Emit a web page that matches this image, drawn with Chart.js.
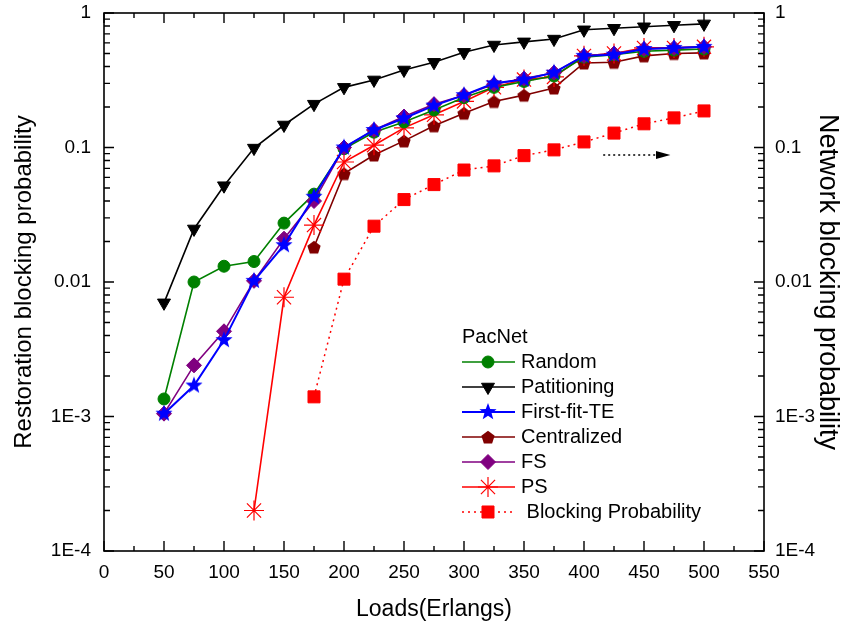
<!DOCTYPE html>
<html>
<head>
<meta charset="utf-8">
<script src="https://cdn.jsdelivr.net/npm/chart.js@4.4.0/dist/chart.umd.min.js"></script>
<style>
  body { margin: 0; background: #fff; }
</style>
</head>
<body>
<canvas id="grafico" width="862" height="635"></canvas>
<script>
var cargas = [50, 75, 100, 125, 150, 175, 200, 225, 250, 275, 300, 325, 350, 375, 400, 425, 450, 475, 500];

var random = [0.00135, 0.0100, 0.0131, 0.0142, 0.0274, 0.045, 0.098, 0.13, 0.155, 0.19, 0.235, 0.28, 0.31, 0.34, 0.47, 0.49, 0.52, 0.53, 0.54];
var particionado = [0.0070, 0.0248, 0.052, 0.099, 0.147, 0.21, 0.28, 0.318, 0.377, 0.43, 0.51, 0.578, 0.61, 0.64, 0.75, 0.77, 0.79, 0.81, 0.83];
var firstFit = [0.00105, 0.0017, 0.0037, 0.0102, 0.0188, 0.043, 0.1, 0.135, 0.165, 0.205, 0.245, 0.30, 0.32, 0.36, 0.48, 0.49, 0.54, 0.55, 0.56];
var centralizado = [null, null, null, null, null, 0.0182, 0.064, 0.088, 0.112, 0.145, 0.18, 0.22, 0.245, 0.277, 0.425, 0.43, 0.48, 0.50, 0.505];
var fsDatos = [0.00105, 0.0024, 0.0043, 0.0102, 0.021, 0.040, 0.1, 0.135, 0.17, 0.21, 0.245, 0.295, 0.325, 0.36, 0.48, 0.50, 0.54, 0.55, 0.56];
var psDatos = [null, null, null, 0.0002, 0.0077, 0.0265, 0.078, 0.104, 0.14, 0.175, 0.22, 0.28, 0.32, 0.335, 0.48, 0.50, 0.55, 0.55, 0.56];
var bloqueo = [null, null, null, null, null, 0.0014, 0.0105, 0.026, 0.041, 0.053, 0.068, 0.073, 0.087, 0.096, 0.11, 0.128, 0.15, 0.166, 0.187];

var yMarcas = [0.0001, 0.001, 0.01, 0.1, 1];
var yEtiquetas = ["1E-4", "1E-3", "0.01", "0.1", "1"];
var xPaso = 50;

var fuente = "Arial, 'Liberation Sans', sans-serif";

// marcadores que Chart.js no trae
function hacerEstrella(color, r) {
  var c = document.createElement("canvas");
  c.width = c.height = 2 * r + 2;
  var ctx = c.getContext("2d");
  ctx.fillStyle = color;
  ctx.beginPath();
  for (var i = 0; i < 10; i++) {
    var a = -Math.PI / 2 + i * Math.PI / 5;
    var rr = i % 2 ? r * 0.42 : r;
    ctx.lineTo(r + 1 + rr * Math.cos(a), r + 1 + rr * Math.sin(a));
  }
  ctx.closePath();
  ctx.fill();
  return c;
}

function hacerPentagono(color, r) {
  var c = document.createElement("canvas");
  c.width = c.height = 2 * r + 2;
  var ctx = c.getContext("2d");
  ctx.fillStyle = color;
  ctx.beginPath();
  for (var i = 0; i < 5; i++) {
    var a = -Math.PI / 2 + i * 2 * Math.PI / 5;
    ctx.lineTo(r + 1 + r * Math.cos(a), r + 1.8 + r * Math.sin(a));
  }
  ctx.closePath();
  ctx.fill();
  return c;
}

function puntos(serie) {
  var lista = [];
  for (var i = 0; i < cargas.length; i++) {
    if (serie[i] != null) lista.push({ x: cargas[i], y: serie[i] });
  }
  return lista;
}

function serie(nombre, datos, color, estilo, radio, giro, orden, extra) {
  var d = {
    label: nombre,
    data: puntos(datos),
    borderColor: color,
    backgroundColor: color,
    pointBackgroundColor: color,
    pointBorderColor: color,
    pointBorderWidth: 1,
    borderWidth: 1.6,
    pointStyle: estilo,
    pointRadius: radio,
    pointRotation: giro,
    order: orden,
    yAxisID: "y"
  };
  for (var k in extra) d[k] = extra[k];
  return d;
}

var datasets = [
  serie("Random", random, "#008000", "circle", 6, 0, 2),
  serie("Patitioning", particionado, "#000000", "triangle", 7.5, 180, 5),
  serie("First-fit-TE", firstFit, "#0000ff", hacerEstrella("#0000ff", 9), 8, 0, 0, { borderWidth: 2 }),
  serie("Centralized", centralizado, "#800000", hacerPentagono("#800000", 7), 7, 0, 4),
  serie("FS", fsDatos, "#800080", "rectRot", 7.5, 0, 1),
  serie("PS", psDatos, "#ff0000", "star", 10, 0, 3, { pointBorderWidth: 1.2 }),
  serie("Blocking Probability", bloqueo, "#ff0000", "rect", 8.5, 0, 6, { borderDash: [2, 4], borderWidth: 1.5, yAxisID: "y2" })
];

// marco, marcas hacia adentro, flecha y leyenda
var marcoPlugin = {
  id: "marco",
  afterDraw: function (chart) {
    var ctx = chart.ctx;
    var a = chart.chartArea;
    var sx = chart.scales.x;
    var sy = chart.scales.y;
    ctx.save();
    ctx.strokeStyle = "#000";
    ctx.lineWidth = 1.6;
    ctx.strokeRect(a.left, a.top, a.right - a.left, a.bottom - a.top);

    ctx.lineWidth = 1.4;
    ctx.beginPath();
    for (var v = 0; v <= sx.max; v += xPaso / 2) {
      var px = sx.getPixelForValue(v);
      var largo = (v % xPaso === 0) ? 10 : 5;
      ctx.moveTo(px, a.bottom); ctx.lineTo(px, a.bottom - largo);
      ctx.moveTo(px, a.top); ctx.lineTo(px, a.top + largo);
    }
    for (var e = 0; e < yMarcas.length; e++) {
      for (var m = 1; m <= 9; m++) {
        var val = yMarcas[e] * m;
        if (val > 1) break;
        var py = sy.getPixelForValue(val);
        var l = m === 1 ? 10 : 6;
        ctx.moveTo(a.left, py); ctx.lineTo(a.left + l, py);
        ctx.moveTo(a.right, py); ctx.lineTo(a.right - l, py);
      }
    }
    ctx.stroke();

    // flecha punteada hacia el eje derecho
    var fy = sy.getPixelForValue(0.088);
    var fx1 = sx.getPixelForValue(416);
    var fx2 = sx.getPixelForValue(460);
    var fx3 = sx.getPixelForValue(472);
    ctx.lineWidth = 1.5;
    ctx.setLineDash([2, 3]);
    ctx.beginPath();
    ctx.moveTo(fx1, fy); ctx.lineTo(fx2, fy);
    ctx.stroke();
    ctx.setLineDash([]);
    ctx.fillStyle = "#000";
    ctx.beginPath();
    ctx.moveTo(fx3, fy); ctx.lineTo(fx2, fy - 4); ctx.lineTo(fx2, fy + 4);
    ctx.closePath();
    ctx.fill();

    // leyenda
    var lx = 462, ly = 337, paso = 25;
    ctx.font = "20px " + fuente;
    ctx.textBaseline = "middle";
    ctx.textAlign = "left";
    ctx.fillStyle = "#000";
    ctx.fillText("PacNet", lx, ly);
    chart.data.datasets.forEach(function (d, i) {
      var y = ly + paso * (i + 1);
      ctx.strokeStyle = d.borderColor;
      ctx.lineWidth = d.borderWidth;
      ctx.setLineDash(d.borderDash || []);
      ctx.beginPath();
      ctx.moveTo(lx, y); ctx.lineTo(lx + 53, y);
      ctx.stroke();
      ctx.setLineDash([]);
      ctx.fillStyle = d.pointBackgroundColor;
      ctx.strokeStyle = d.pointBorderColor;
      ctx.lineWidth = d.pointBorderWidth;
      Chart.helpers.drawPoint(ctx, {
        pointStyle: d.pointStyle,
        radius: d.pointRadius,
        rotation: d.pointRotation,
        borderWidth: d.pointBorderWidth
      }, lx + 26, y);
      ctx.fillStyle = "#000";
      var texto = d.label;
      var tx = lx + 59;
      if (d.borderDash) { texto = " " + texto; }
      ctx.fillText(texto, tx, y);
    });
    ctx.restore();
  }
};

function etiquetaY(valor) {
  for (var i = 0; i < yMarcas.length; i++) {
    if (Math.abs(valor - yMarcas[i]) < yMarcas[i] * 0.01) return yEtiquetas[i];
  }
  return "";
}

function ejeLog(posicion, ancho, titulo, tamTitulo, relleno, pad) {
  return {
    type: "logarithmic",
    position: posicion,
    min: 0.0001,
    max: 1,
    afterBuildTicks: function (s) {
      s.ticks = yMarcas.map(function (v) { return { value: v }; });
    },
    afterFit: function (s) {
      s.width = ancho;
      s.paddingTop = 0;
      s.paddingBottom = 0;
    },
    grid: { display: false, drawTicks: false },
    border: { display: false },
    ticks: {
      callback: etiquetaY,
      color: "#000",
      font: { family: fuente, size: 19 },
      padding: pad,
      autoSkip: false
    },
    title: {
      display: true,
      text: titulo,
      color: "#000",
      font: { family: fuente, size: tamTitulo },
      padding: relleno
    }
  };
}

new Chart(document.getElementById("grafico"), {
  type: "line",
  data: { datasets: datasets },
  options: {
    responsive: false,
    animation: false,
    events: [],
    layout: { padding: { top: 13, left: 0, right: 0, bottom: 0 } },
    plugins: { legend: { display: false }, tooltip: { enabled: false } },
    scales: {
      x: {
        type: "linear",
        min: 0,
        max: 550,
        afterFit: function (s) {
          s.height = 84;
          s.paddingLeft = 0;
          s.paddingRight = 0;
        },
        grid: { display: false, drawTicks: false },
        border: { display: false },
        ticks: {
          stepSize: xPaso,
          color: "#000",
          font: { family: fuente, size: 19 },
          padding: 10,
          maxRotation: 0,
          autoSkip: false
        },
        title: {
          display: true,
          text: "Loads(Erlangs)",
          color: "#000",
          font: { family: fuente, size: 23 },
          padding: { top: 0, bottom: 12 }
        }
      },
      y: ejeLog("left", 104, "Restoration blocking probability", 24, { top: 10, bottom: 0 }, 13),
      y2: ejeLog("right", 98, "Network blocking probability", 27, { top: 18, bottom: 0 }, 11)
    }
  },
  plugins: [marcoPlugin]
});
</script>
</body>
</html>
